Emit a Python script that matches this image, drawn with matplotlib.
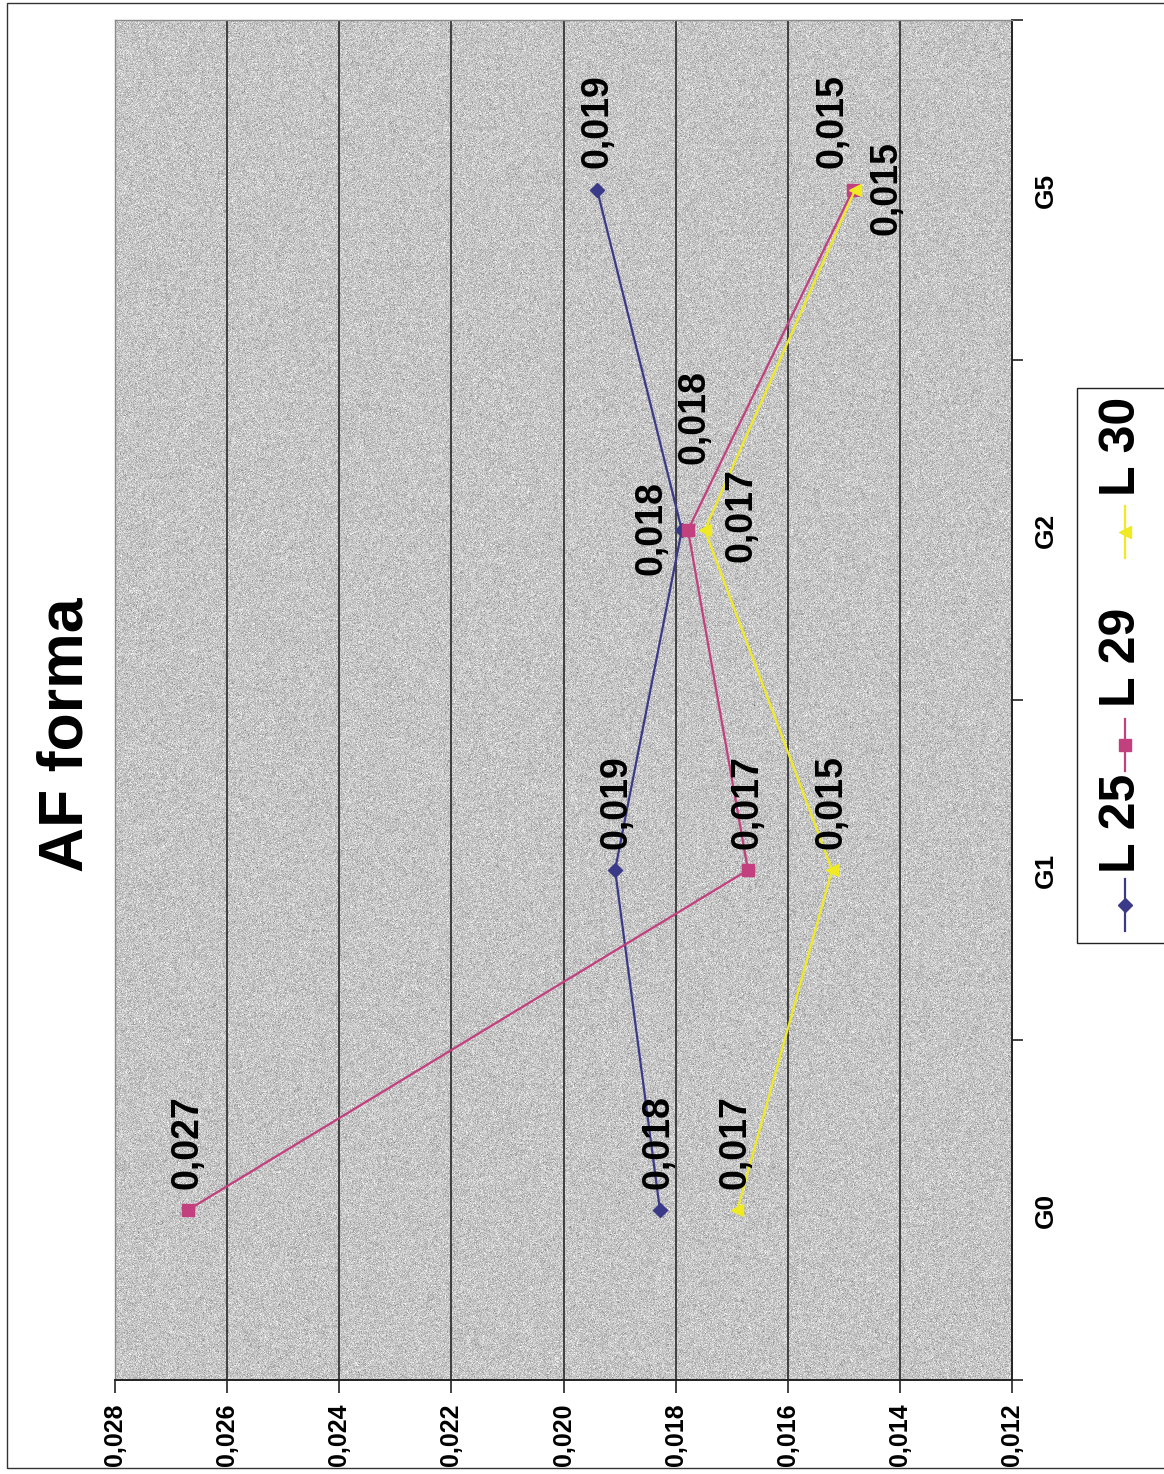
import numpy as np
import matplotlib.pyplot as plt
from matplotlib.patches import Rectangle
from matplotlib.lines import Line2D
from matplotlib.ticker import FixedLocator, NullFormatter

plt.rcParams['font.family'] = ['Liberation Sans', 'DejaVu Sans']

# ── data ─────────────────────────────────────────────────────────────────────
categories = ["G0", "G1", "G2", "G5"]
series_names = ["L 25", "L 29", "L 30"]
l25 = [0.01828, 0.01908, 0.01789, 0.01940]
l29 = [0.02670, 0.01671, 0.01778, 0.01484]
l30 = [0.01690, 0.01521, 0.01748, 0.01480]
value_ticks = [0.012, 0.014, 0.016, 0.018, 0.020, 0.022, 0.024, 0.026, 0.028]

# ── styles ───────────────────────────────────────────────────────────────────
COLORS = ["#3a3a88", "#c2407e", "#f0ea22"]
MARKERS = ["D", "s", "<"]
MSIZES = [7, 8, 9]
# label offsets in pixels (dx, dy), chart is drawn turned on its side
LABEL_OFFSETS = [
    [(-1, 68), (1, 68), (-30, 2), (0, 69)],
    [(0, 68), (0, 68), (7, 113), (-20, 69)],
    [(-2, 68), (-1, 68), (37, 15), (31, 2)],
]

W, H = 1164, 1474
fig = plt.figure(figsize=(W / 100, H / 100), dpi=100)
fig.patch.set_facecolor("white")

ax = fig.add_axes([115 / W, 1 - 1380 / H, (1012 - 115) / W, (1380 - 20) / H])
ax.set_xlim(0.028, 0.012)
ax.set_ylim(-0.5, len(categories) - 0.5)

# grainy grey plot area
rng = np.random.default_rng(7)
grain = np.clip(rng.normal(197, 19, size=(1360, 897)), 0, 255)
ax.imshow(grain, extent=[0.028, 0.012, -0.5, len(categories) - 0.5],
          aspect="auto", cmap="gray", vmin=0, vmax=255,
          interpolation="nearest", zorder=0)

for v in value_ticks[1:-1]:
    ax.axvline(v, color="#1a1a1a", linewidth=1.1, zorder=1)

ypos = np.arange(len(categories))
for vals, name, c, m, ms, offs in zip([l25, l29, l30], series_names, COLORS,
                                     MARKERS, MSIZES, LABEL_OFFSETS):
    ax.plot(vals, ypos, color=c, linewidth=1.6, marker=m, markersize=ms,
            markeredgecolor=c, markerfacecolor=c, zorder=3)
    for v, y, (dx, dy) in zip(vals, ypos, offs):
        ax.annotate(f"{v:.3f}".replace(".", ","), (v, y), xytext=(dx, dy),
                    textcoords="offset pixels", rotation=90, ha="center",
                    va="center", fontsize=27, fontweight="bold", zorder=4)

# value axis along the bottom
ax.set_xticks(value_ticks)
ax.set_xticklabels([f"{v:.3f}".replace(".", ",") for v in value_ticks],
                   rotation=90, fontsize=18, fontweight="bold")
ax.tick_params(axis="x", direction="out", length=9, width=1.2, pad=8,
               color="#222222")

# category axis on the right
ax.yaxis.tick_right()
ax.yaxis.set_major_locator(FixedLocator(np.arange(-0.5, len(categories), 1.0)))
ax.yaxis.set_major_formatter(NullFormatter())
ax.yaxis.set_minor_locator(FixedLocator(ypos))
ax.set_yticklabels(categories, minor=True, rotation=90, fontsize=19,
                   fontweight="bold", va="center")
ax.tick_params(axis="y", which="major", direction="out", length=8, width=1.2,
               color="#222222")
ax.tick_params(axis="y", which="minor", length=0, pad=16)

for side in ["bottom", "right"]:
    ax.spines[side].set_color("#222222")
    ax.spines[side].set_linewidth(1.4)
for side in ["top", "left"]:
    ax.spines[side].set_color("#8a8a8a")
    ax.spines[side].set_linewidth(1.0)

# title
fig.text(66 / W, 1 - 735 / H, "AF forma", rotation=90, fontsize=45,
         fontweight="bold", ha="center", va="center")

# legend box
fig.add_artist(Rectangle((1077 / W, 1 - 943 / H), 120 / W, (943 - 388) / H,
                         transform=fig.transFigure, facecolor="white",
                         edgecolor="#222222", linewidth=1.0))
leg_marker_y = [905, 745, 532]
leg_text_y = [823, 657, 446]
for name, c, m, ms, my, ty in zip(series_names, COLORS, MARKERS, MSIZES,
                                  leg_marker_y, leg_text_y):
    fig.add_artist(Line2D([1125 / W, 1125 / W], [1 - (my + 26) / H, 1 - (my - 26) / H],
                          transform=fig.transFigure, color=c, linewidth=1.6))
    fig.add_artist(Line2D([1125 / W], [1 - my / H], transform=fig.transFigure,
                          marker=m, markersize=ms, color=c))
    fig.text(1122 / W, 1 - ty / H, name, rotation=90, fontsize=36,
             fontweight="bold", ha="center", va="center")

# outer chart frame
fig.add_artist(Rectangle((7 / W, 1 - 1468 / H), 1.05, (1468 - 3) / H,
                         transform=fig.transFigure, fill=False,
                         edgecolor="#333333", linewidth=1.0))

fig.savefig("out.png", dpi=100)
